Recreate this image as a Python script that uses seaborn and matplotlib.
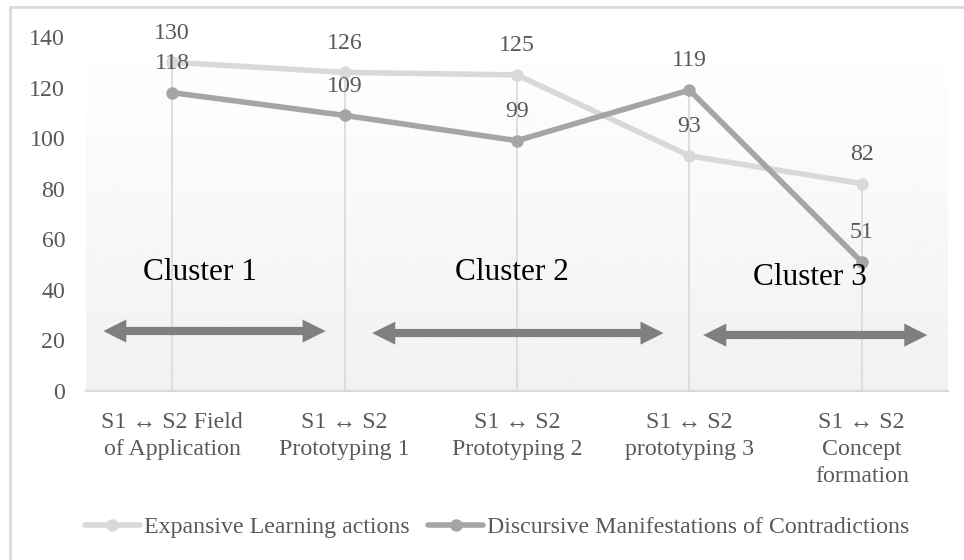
import numpy as np
import pandas as pd
import matplotlib
matplotlib.use("Agg")
import matplotlib.pyplot as plt
from matplotlib.lines import Line2D
from matplotlib.patches import FancyArrowPatch
import seaborn as sns

# ---------------------------------------------------------------------------
# data
# ---------------------------------------------------------------------------
categories = [
    "S1 \u2194 S2 Field\nof Application",
    "S1 \u2194 S2\nPrototyping 1",
    "S1 \u2194 S2\nPrototyping 2",
    "S1 \u2194 S2\nprototyping 3",
    "S1 \u2194 S2\nConcept\nformation",
]
expansive = [130, 126, 125, 93, 82]
discursive = [118, 109, 99, 119, 51]
series_names = ["Expansive Learning actions", "Discursive Manifestations of Contradictions"]
series_colors = ["#d9d9d9", "#a5a5a5"]

cluster_names = ["Cluster 1", "Cluster 2", "Cluster 3"]
cluster_text_pos = [(0.16, 47), (1.97, 47), (3.70, 45)]
cluster_spans = [(-0.40, 0.89, 23.7), (1.16, 2.85, 22.9), (3.08, 4.38, 22.1)]
y_ticks = [0, 20, 40, 60, 80, 100, 120, 140]

# ---------------------------------------------------------------------------
# styling
# ---------------------------------------------------------------------------
sns.set_theme(style="white")
plt.rcParams["font.family"] = ["Liberation Serif", "DejaVu Serif"]
TEXT = "#595959"
ARROW = "#7f7f7f"
FS = 17.2

df = pd.DataFrame({
    "pos": list(range(len(categories))) * 2,
    "value": expansive + discursive,
    "series": [series_names[0]] * len(categories) + [series_names[1]] * len(categories),
})

fig = plt.figure(figsize=(9.64, 5.6), dpi=100)
ax = fig.add_axes([86 / 964, 1 - 391 / 560, 862 / 964, 354 / 560])

# outer chart frame (left and top edges visible)
fig.add_artist(plt.Rectangle((10 / 964, -0.1), 1.2, 1 - 7 / 560 + 0.1,
                             transform=fig.transFigure, fill=False,
                             ec="#d9d9d9", lw=2, zorder=0))

# gradient background of plot area
grad = np.linspace(1.0, 0.945, 256).reshape(-1, 1)
ax.imshow(grad, cmap="gray", vmin=0, vmax=1, extent=[0, 1, 0, 1],
          transform=ax.transAxes, aspect="auto", zorder=0)

# drop lines
tops = [max(a, b) for a, b in zip(expansive, discursive)]
ax.vlines(range(len(categories)), 0, tops, color="#d9d9d9", lw=1.2, zorder=1)

sns.lineplot(data=df, x="pos", y="value", hue="series", palette=series_colors,
             marker="o", markersize=9, markeredgewidth=0, lw=4,
             legend=False, ax=ax, zorder=3)

# data labels
for vals in (expansive, discursive):
    for i, v in enumerate(vals):
        ax.annotate(str(v), (i, v), xytext=(0, 21), textcoords="offset points",
                    ha="center", va="center", fontsize=FS, color=TEXT,
                    annotation_clip=False)

# cluster annotations
for name, (cx, cy) in zip(cluster_names, cluster_text_pos):
    ax.text(cx, cy, name, ha="center", va="center", fontsize=22.5, color="black", zorder=5)
for x0, x1, yy in cluster_spans:
    xm = (x0 + x1) / 2
    # two arrow heads plus a uniform shaft -> one double arrow
    for start, end in ((xm, x0), (xm, x1)):
        ax.add_patch(FancyArrowPatch((start, yy), (end, yy),
                                     arrowstyle="simple,head_length=1.66,head_width=1.66,tail_width=0.3",
                                     mutation_scale=10, color=ARROW, lw=0,
                                     shrinkA=0, shrinkB=0, zorder=4))
    ax.hlines(yy, x0 + 0.12, x1 - 0.12, color=ARROW, lw=5.9, capstyle="butt", zorder=4)

ax.set_xlim(-0.5, len(categories) - 0.5)
ax.set_ylim(0, 140)
ax.set_xticks(range(len(categories)))
ax.set_xticklabels(categories, fontsize=FS, color=TEXT, linespacing=1.38)
ax.set_yticks(y_ticks)
ax.set_yticklabels([str(t) for t in y_ticks], fontsize=FS, color=TEXT)
ax.tick_params(axis="both", length=0)
ax.tick_params(axis="y", pad=15)
ax.tick_params(axis="x", pad=15)
ax.set_xlabel("")
ax.set_ylabel("")
for side in ("top", "right", "left"):
    ax.spines[side].set_visible(False)
ax.spines["bottom"].set_color("#d9d9d9")
ax.spines["bottom"].set_linewidth(1.5)

handles = [Line2D([], [], color=c, lw=4, marker="o", markersize=9, markeredgewidth=0)
           for c in series_colors]
leg = fig.legend(handles, series_names, loc="center", bbox_to_anchor=(497 / 964, 1 - 527 / 560),
                 ncol=2, frameon=False, fontsize=FS, handlelength=2.3,
                 handletextpad=0.15, columnspacing=0.8)
for t in leg.get_texts():
    t.set_color(TEXT)

fig.savefig("out.png", dpi=100)
